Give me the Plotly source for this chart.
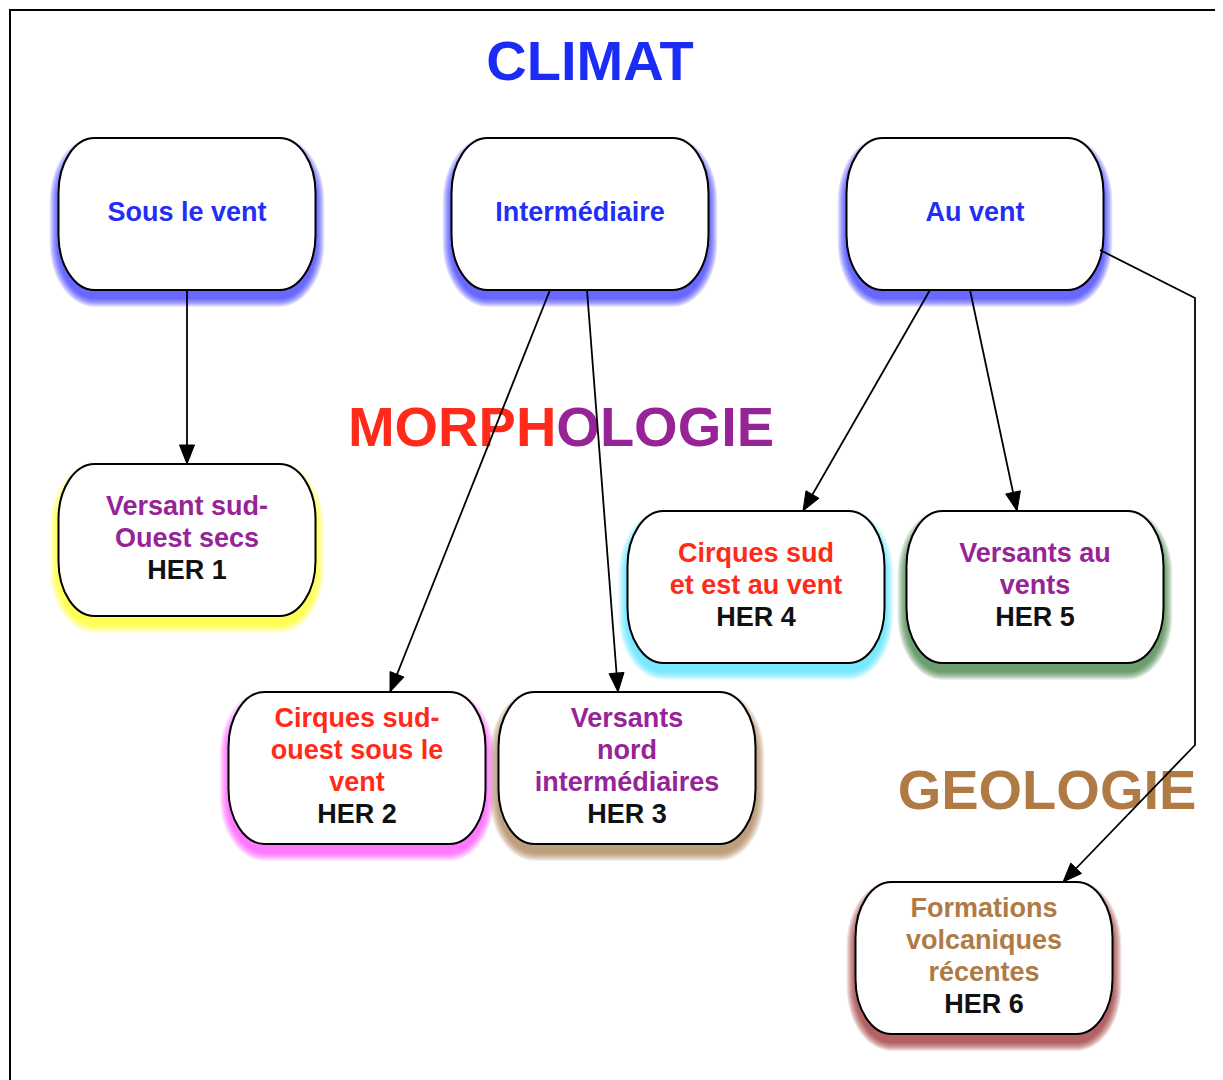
import plotly.graph_objects as go

# --- diagram data (pixel space, y grows downward) ---
node_ids = ["sous", "inter", "auvent", "her1", "her2", "her3", "her4", "her5", "her6"]
node_cx = [187, 580, 975, 187, 357, 627, 756, 1035, 984]
node_cy = [214, 214, 214, 540, 768, 768, 587, 587, 958]
node_glow = ["#1a1aff", "#1a1aff", "#1a1aff", "#ffff00", "#ff33ff",
             "#9a6a3a", "#33ddff", "#1f6e1f", "#8a1010"]
node_lines = [
    ["Sous le vent"],
    ["Intermédiaire"],
    ["Au vent"],
    ["Versant sud-", "Ouest secs", "HER 1"],
    ["Cirques sud-", "ouest sous le", "vent", "HER 2"],
    ["Versants", "nord", "intermédiaires", "HER 3"],
    ["Cirques sud", "et est au vent", "HER 4"],
    ["Versants au", "vents", "HER 5"],
    ["Formations", "volcaniques", "récentes", "HER 6"],
]
node_colors = [
    ["#1f2ff5"],
    ["#1f2ff5"],
    ["#1f2ff5"],
    ["#962497", "#962497", "#111111"],
    ["#ff2a1a", "#ff2a1a", "#ff2a1a", "#111111"],
    ["#962497", "#962497", "#962497", "#111111"],
    ["#ff2a1a", "#ff2a1a", "#111111"],
    ["#962497", "#962497", "#111111"],
    ["#b07a45", "#b07a45", "#b07a45", "#111111"],
]

edges = [
    [(187, 290), (187, 464)],
    [(550, 290), (390, 692)],
    [(587, 290), (618, 692)],
    [(930, 290), (803, 511)],
    [(970, 290), (1017, 511)],
    [(1100, 250), (1195, 298), (1195, 745), (1063, 882)],
]

titles = ["CLIMAT",
          "<span style='color:#ff2a1a'>MORPH</span><span style='color:#962497'>OLOGIE</span>",
          "GEOLOGIE"]
title_x = [590, 561, 1047]
title_y = [66, 432, 795]
title_color = ["#1a2cf5", "#962497", "#b07a45"]

BOX_W, BOX_H = 257, 152
RX, RY = 36, 55
LINE_GAP = 32
W, H = 1223, 1080
PAGE_PAD = 8  # default body margin of the html page


def pill(cx, cy, w, h, grow=0, dy=0):
    k = 0.5523
    x0, x1 = cx - w / 2 - grow, cx + w / 2 + grow
    y0, y1 = cy - h / 2 - grow + dy, cy + h / 2 + grow + dy
    rx, ry = RX + grow, RY + grow
    return (f"M {x0+rx},{y0} L {x1-rx},{y0} "
            f"C {x1-rx+k*rx},{y0} {x1},{y0+ry-k*ry} {x1},{y0+ry} "
            f"L {x1},{y1-ry} "
            f"C {x1},{y1-ry+k*ry} {x1-rx+k*rx},{y1} {x1-rx},{y1} "
            f"L {x0+rx},{y1} "
            f"C {x0+rx-k*rx},{y1} {x0},{y1-ry+k*ry} {x0},{y1-ry} "
            f"L {x0},{y0+ry} "
            f"C {x0},{y0+ry-k*ry} {x0+rx-k*rx},{y0} {x0+rx},{y0} Z")


def hex_rgba(c, a):
    c = c.lstrip("#")
    return f"rgba({int(c[0:2],16)},{int(c[2:4],16)},{int(c[4:6],16)},{a})"


shapes = []
# outer frame
shapes.append(dict(type="rect", x0=10, y0=10, x1=1218, y1=1110, xref="x", yref="y",
                   line=dict(color="black", width=2), fillcolor="rgba(0,0,0,0)", layer="below"))

# glows (mostly below the box) + boxes
for cx, cy, gc in zip(node_cx, node_cy, node_glow):
    for g in range(1, 9):
        shapes.append(dict(type="path", path=pill(cx, cy, BOX_W, BOX_H, grow=g * 1.1, dy=8),
                           fillcolor=hex_rgba(gc, 0.12), line=dict(width=0), layer="below"))
    shapes.append(dict(type="path", path=pill(cx, cy, BOX_W, BOX_H),
                       fillcolor="white", line=dict(color="black", width=2), layer="below"))

# connectors with arrowheads
for pts in edges:
    path = "M " + " L ".join(f"{x},{y}" for x, y in pts)
    shapes.append(dict(type="path", path=path, line=dict(color="black", width=1.8), layer="above"))
    (xa, ya), (xb, yb) = pts[-2], pts[-1]
    d = ((xb - xa) ** 2 + (yb - ya) ** 2) ** 0.5
    ux, uy = (xb - xa) / d, (yb - ya) / d
    L, hw = 19, 7.5
    bx, by = xb - ux * L, yb - uy * L
    tri = (f"M {xb},{yb} L {bx - uy*hw},{by + ux*hw} "
           f"L {bx + uy*hw},{by - ux*hw} Z")
    shapes.append(dict(type="path", path=tri, fillcolor="black",
                       line=dict(color="black", width=1), layer="above"))

fig = go.Figure()

# box labels
tx, ty, tt, tc = [], [], [], []
for cx, cy, lines, cols in zip(node_cx, node_cy, node_lines, node_colors):
    n = len(lines)
    for i, (s, c) in enumerate(zip(lines, cols)):
        tx.append(cx)
        ty.append(cy + (i - (n - 1) / 2) * LINE_GAP)
        tt.append(s)
        tc.append(c)
fig.add_trace(go.Scatter(x=tx, y=ty, text=tt, mode="text", textposition="middle center",
                         textfont=dict(family="Liberation Sans", size=27, color=tc, weight="bold"),
                         hoverinfo="skip", showlegend=False))

# section titles
fig.add_trace(go.Scatter(x=title_x, y=title_y, text=titles, mode="text",
                         textposition="middle center",
                         textfont=dict(family="Liberation Sans", size=56, color=title_color, weight="bold"),
                         hoverinfo="skip", showlegend=False))

fig.update_layout(
    width=W, height=H,
    margin=dict(l=0, r=0, t=0, b=0),
    paper_bgcolor="white", plot_bgcolor="white",
    xaxis=dict(range=[PAGE_PAD, W + PAGE_PAD], visible=False, fixedrange=True),
    yaxis=dict(range=[H + PAGE_PAD, PAGE_PAD], visible=False, fixedrange=True),
    shapes=shapes,
    showlegend=False,
)

fig.write_html("out.html")
